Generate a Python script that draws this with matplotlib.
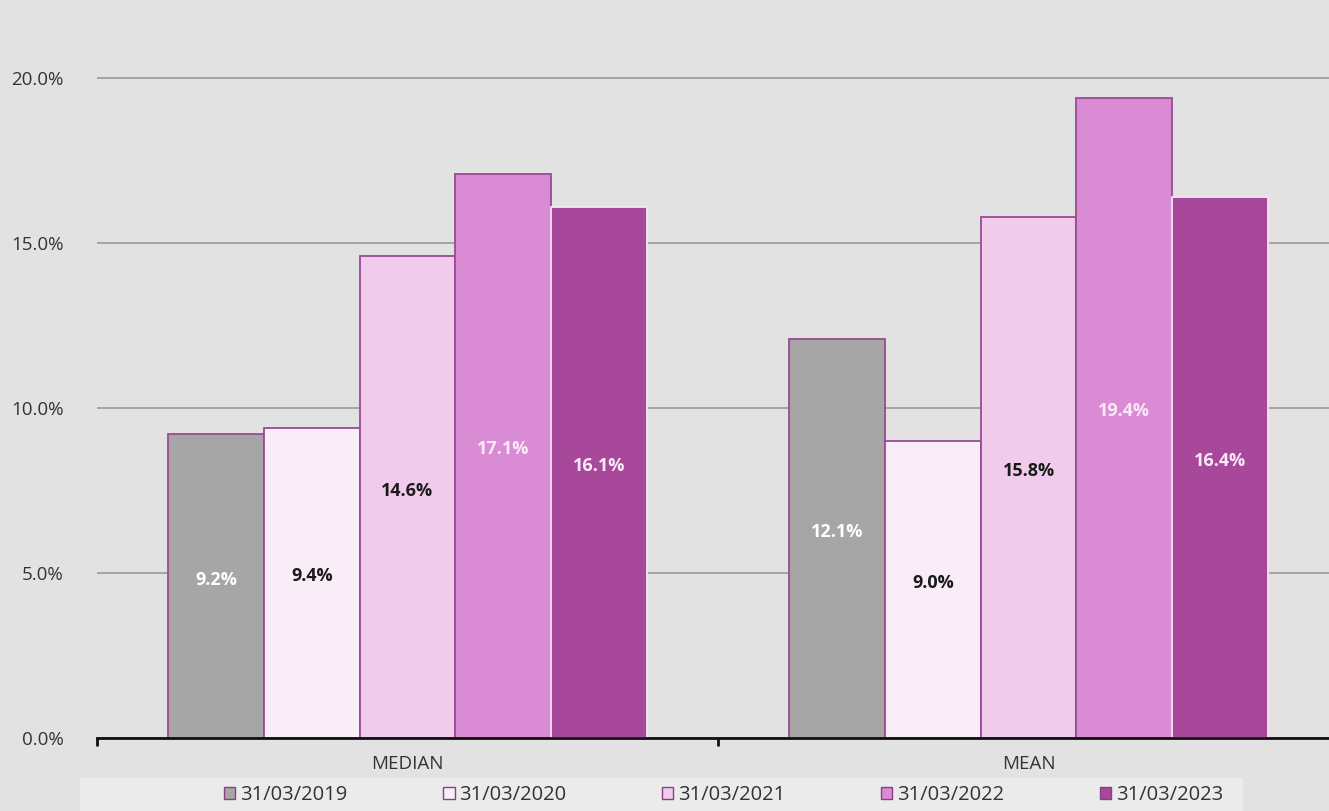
import matplotlib.pyplot as plt
import numpy as np
from matplotlib.patches import Patch, Rectangle
from matplotlib.ticker import FixedLocator

categories = ["MEDIAN", "MEAN"]
series_labels = ["31/03/2019", "31/03/2020", "31/03/2021", "31/03/2022", "31/03/2023"]
values = [
    [9.2, 12.1],
    [9.4, 9.0],
    [14.6, 15.8],
    [17.1, 19.4],
    [16.1, 16.4],
]
colors = ["#a6a6a6", "#f9eef8", "#f0cbec", "#d98bd4", "#a8489b"]
edge_colors = ["#9b4a94", "#9b4a94", "#9b4a94", "#9b4a94", "#f5e6f3"]
label_colors = ["white", "#1a1a1a", "#1a1a1a", "#fbe8f8", "#fbe8f8"]
y_ticks = [0, 5, 10, 15, 20]

plt.rcParams["font.family"] = ["Open Sans", "DejaVu Sans"]

fig = plt.figure(figsize=(13.29, 8.11), dpi=100)
fig.patch.set_facecolor("#e2e2e2")
ax = fig.add_axes([97 / 1329, 73 / 811, 1232 / 1329, 738 / 811])
ax.set_facecolor("#e2e2e2")

x = np.arange(len(categories))
bar_w = 0.154
n = len(series_labels)
for i, (vals, col, ec, lc) in enumerate(zip(values, colors, edge_colors, label_colors)):
    pos = x + (i - (n - 1) / 2) * bar_w
    ax.bar(pos, vals, width=bar_w, color=col, edgecolor=ec, linewidth=1.3, zorder=3)
    for px, v in zip(pos, vals):
        ax.text(px, v / 2 + 0.2, f"{v:.1f}%", ha="center", va="center",
                fontsize=13, fontweight="bold", color=lc, zorder=4)

ax.set_xlim(-0.5, -0.5 + 1232 / 621)
ax.set_ylim(0, 738 / 33)
ax.set_yticks(y_ticks)
ax.set_yticklabels([f"{t:.1f}%" for t in y_ticks], fontsize=13.5, color="#333333")
ax.tick_params(axis="y", length=0, pad=24)
ax.yaxis.grid(True, color="#9a9a9a", linewidth=1.2, zorder=0)

ax.set_xticks(x)
ax.set_xticklabels(categories, fontsize=13.5, color="#333333")
ax.tick_params(axis="x", which="major", length=0, pad=12)
ax.xaxis.set_minor_locator(FixedLocator([-0.5, 0.5]))
ax.tick_params(axis="x", which="minor", length=6, width=2, color="#111111", direction="out")

for s in ["top", "right", "left"]:
    ax.spines[s].set_visible(False)
ax.spines["bottom"].set_color("#111111")
ax.spines["bottom"].set_linewidth(2)
ax.spines["bottom"].set_zorder(5)

# lighter strip behind the legend
fig.add_artist(Rectangle((80 / 1329, 0), 1163 / 1329, 33 / 811, transform=fig.transFigure,
                         facecolor="#ebebeb", edgecolor="none", zorder=0))

handles = [Patch(facecolor=c, edgecolor="#8a3f84", linewidth=1.0) for c in colors]
leg = fig.legend(handles, series_labels, loc="center", ncol=5,
                 bbox_to_anchor=(724 / 1329, 16 / 811),
                 frameon=False, fontsize=14.5, handlelength=0.55, handleheight=0.55,
                 handletextpad=0.25, columnspacing=4.75, borderaxespad=0, borderpad=0)
for t in leg.get_texts():
    t.set_color("#333333")

fig.savefig("out.png", dpi=100, facecolor=fig.get_facecolor())
